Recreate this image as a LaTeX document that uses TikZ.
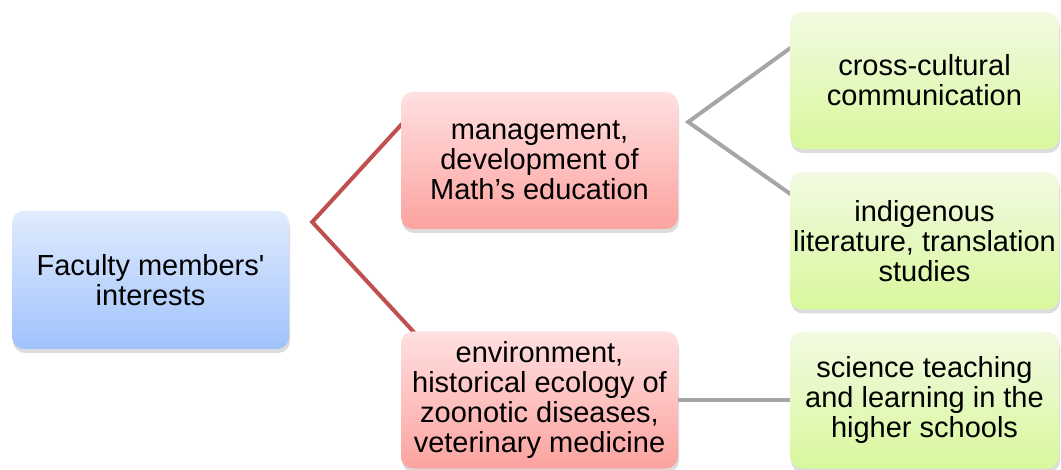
\documentclass[tikz,border=0pt]{standalone}
\usepackage{fontspec}
\setmainfont{Liberation Sans}
\newfontfamily\arialfont{Liberation Sans}
\usetikzlibrary{calc,shadows,backgrounds}
\definecolor{blueT}{RGB}{224,235,253}
\definecolor{blueB}{RGB}{160,194,252}
\definecolor{pinkT}{RGB}{255,224,224}
\definecolor{pinkB}{RGB}{252,163,160}
\definecolor{greenT}{RGB}{242,250,226}
\definecolor{greenB}{RGB}{216,248,156}
\definecolor{redln}{RGB}{192,80,77}
\definecolor{grayln}{RGB}{166,166,166}
\tikzset{
  box/.style={rounded corners=12pt, inner sep=0pt, align=center,
    font=\arialfont\fontsize{29}{30}\selectfont,
    drop shadow={shadow xshift=1pt, shadow yshift=-4pt, opacity=0.28}},
  bluebox/.style={box, top color=blueT, bottom color=blueB, minimum width=277pt, minimum height=138pt},
  pinkbox/.style={box, top color=pinkT, bottom color=pinkB, minimum width=277pt, minimum height=137pt},
  greenbox/.style={box, top color=greenT, bottom color=greenB, minimum width=269pt, minimum height=137pt},
  redconn/.style={draw=redln, line width=4pt},
  grayconn/.style={draw=grayln, line width=4pt}
}
\begin{document}
\begin{tikzpicture}[x=1pt,y=-1pt]
\useasboundingbox (0,0) rectangle (1061,470);
\node[bluebox] (root) at (150.5,280) {Faculty members'\\interests};
\node[pinkbox] (p1) at (539.5,160.5) {management,\\development of\\Math’s education};
\node[pinkbox] (p2) at (539.5,400) {environment,\\historical ecology of\\zoonotic diseases,\\veterinary medicine};
\node[greenbox] (g1) at (924.5,80.5) {cross-cultural\\communication};
\node[greenbox] (g2) at (924.5,241) {indigenous\\literature, translation\\studies};
\node[greenbox] (g3) at (924.5,400) {science teaching\\and learning in the\\higher schools};
\coordinate (e1) at ($(root.east)+(23,-58)$);
\coordinate (e2) at ($(p1.east)+(10,-38.5)$);
\begin{scope}[on background layer]
\draw[redconn] ($(p1.west)+(2,-37.5)$) -- (e1) -- ($(p2.north west)+(16,4)$);
\draw[grayconn] ($(g1.west)+(2,-33.5)$) -- (e2) -- ($(g2.west)+(2,-46)$);
\draw[grayconn] (p2.east) -- (g3.west);
\end{scope}
\end{tikzpicture}
\end{document}
